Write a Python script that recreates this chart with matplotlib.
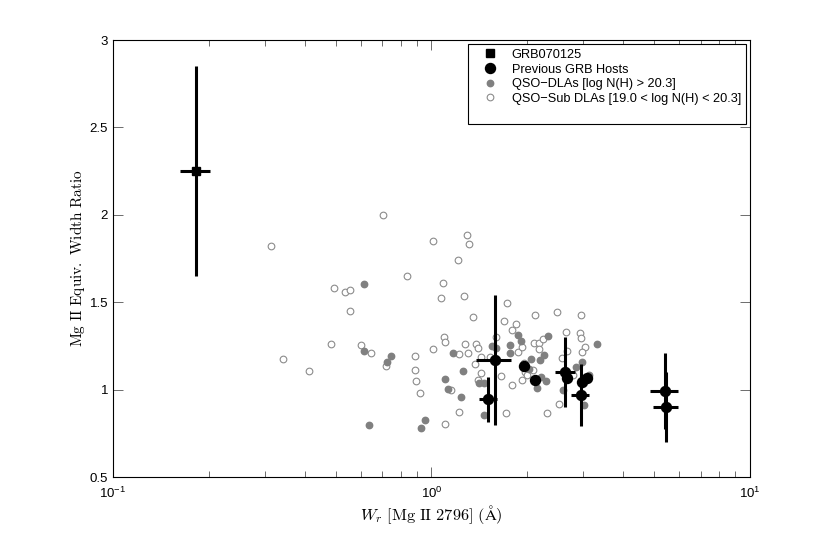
import numpy as np
import matplotlib
matplotlib.use('Agg')
import matplotlib.pyplot as plt
from matplotlib.ticker import FixedLocator, FormatStrFormatter, LogLocator

plt.rcParams['font.family'] = ['Liberation Sans', 'DejaVu Sans']
plt.rcParams['mathtext.fontset'] = 'cm'

# GRB070125
grb_x = [0.182]
grb_y = [2.25]
grb_xerr = [0.02]
grb_yerr = [0.60]

# previous GRB hosts (with error bars)
host_x = [1.51, 1.58, 2.63, 2.94, 5.41, 5.45]
host_y = [0.944, 1.169, 1.102, 0.969, 0.992, 0.900]
host_xerr = [0.10, 0.20, 0.19, 0.19, 0.55, 0.50]
host_yerr = [0.13, 0.37, 0.20, 0.18, 0.22, 0.20]
# previous GRB hosts (no error bars drawn)
host2_x = [1.95, 2.11, 2.67, 2.96, 3.08]
host2_y = [1.135, 1.055, 1.065, 1.045, 1.065]

# QSO-DLAs
dla_x = [0.615, 0.615, 0.746, 0.725, 0.635, 0.958, 0.929, 1.171, 1.256, 1.10,
         1.13, 1.235, 1.406, 1.465, 1.465, 1.545, 1.60, 1.761, 1.761, 1.875,
         1.915, 2.06, 2.02, 2.33, 3.30, 2.26, 2.19, 2.21, 2.29, 2.14,
         2.84, 2.96, 3.13, 2.59, 3.01]
dla_y = [1.606, 1.219, 1.194, 1.160, 0.796, 0.826, 0.780, 1.208, 1.106, 1.062,
         1.003, 0.958, 1.036, 1.036, 0.855, 1.251, 1.236, 1.255, 1.208, 1.312,
         1.280, 1.173, 1.116, 1.307, 1.261, 1.198, 1.169, 1.074, 1.049, 1.007,
         1.128, 1.160, 1.083, 0.998, 0.910]

# QSO-Sub DLAs
sub_x = [0.313, 0.706, 1.008, 1.29, 1.31, 1.21, 0.84, 1.09, 1.07, 1.265,
         0.494, 0.536, 0.555, 0.555, 1.353, 0.484, 0.602, 0.646, 0.343, 0.413,
         0.718, 0.887, 0.887, 0.896, 0.918, 1.008, 1.097, 1.102, 1.22, 1.27,
         1.305, 1.377, 1.396, 1.43, 1.37, 1.43, 1.396, 1.217, 1.10, 1.154,
         1.59, 1.527, 1.73, 1.685, 1.84, 1.786, 1.865, 1.92, 1.95, 1.96,
         2.0, 1.93, 1.79, 1.65, 1.72, 2.11, 2.10, 2.48, 2.94, 2.64,
         2.93, 2.95, 3.03, 2.98, 2.18, 2.24, 2.18, 2.67, 2.57, 2.08,
         2.79, 2.52, 2.30]
sub_y = [1.823, 2.000, 1.852, 1.883, 1.833, 1.740, 1.648, 1.612, 1.526, 1.537,
         1.581, 1.558, 1.572, 1.448, 1.414, 1.263, 1.255, 1.208, 1.173, 1.108,
         1.135, 1.190, 1.114, 1.049, 0.979, 1.232, 1.299, 1.271, 1.202, 1.259,
         1.209, 1.259, 1.238, 1.188, 1.146, 1.093, 1.053, 0.874, 0.803, 0.996,
         1.301, 1.188, 1.495, 1.394, 1.374, 1.341, 1.217, 1.245, 1.154, 1.102,
         1.082, 1.055, 1.025, 1.079, 0.864, 1.427, 1.268, 1.446, 1.427, 1.328,
         1.322, 1.293, 1.245, 1.217, 1.265, 1.288, 1.230, 1.222, 1.179, 1.112,
         1.083, 0.918, 0.868]

fig = plt.figure(figsize=(8.3, 5.37), dpi=100)
ax = fig.add_axes([0.136, 0.1117, 0.7676, 0.8138])

grey = '#808080'
h_sub, = ax.plot(sub_x, sub_y, 'o', mfc='white', mec='#8c8c8c', mew=0.8, ms=4.8, ls='none')
h_dla, = ax.plot(dla_x, dla_y, 'o', mfc=grey, mec=grey, ms=4.6, ls='none')

ax.errorbar(host_x, host_y, xerr=host_xerr, yerr=host_yerr, fmt='none',
            ecolor='k', elinewidth=2.2, capsize=0)
h_host, = ax.plot(host_x + host2_x, host_y + host2_y, 'o', color='k', ms=7.2, ls='none')

ax.errorbar(grb_x, grb_y, xerr=grb_xerr, yerr=grb_yerr, fmt='none',
            ecolor='k', elinewidth=2.2, capsize=0)
h_grb, = ax.plot(grb_x, grb_y, 's', color='k', ms=6, ls='none')

# blank row so the legend box has the extra space at the bottom
h_blank, = ax.plot([], [], ls='none')

ax.set_xscale('log')
ax.set_xlim(0.1, 10)
ax.set_ylim(0.5, 3)
ax.yaxis.set_major_locator(FixedLocator([0.5, 1, 1.5, 2, 2.5, 3]))
ax.yaxis.set_major_formatter(FormatStrFormatter('%g'))
ax.xaxis.set_major_locator(LogLocator(base=10, numticks=5))
ax.xaxis.set_minor_locator(LogLocator(base=10, subs=np.arange(2, 10), numticks=20))

ax.tick_params(which='both', direction='in', top=True, right=True,
               labelsize=9.5, width=0.6, color='#555555')
ax.tick_params(which='major', length=7)
ax.tick_params(which='minor', length=4)
ax.tick_params(axis='x', which='major', pad=6)
for s in ax.spines.values():
    s.set_linewidth(0.8)

ax.set_xlabel(r'$W_r\ \mathrm{[Mg\ II\ 2796]\ (\AA)}$', fontsize=11.8, labelpad=2)
ax.set_ylabel(r'$\mathrm{Mg\ II\ Equiv.\ Width\ Ratio}$', fontsize=11.0, labelpad=1.5)

leg = ax.legend([h_grb, h_host, h_dla, h_sub, h_blank],
                ['GRB070125', 'Previous GRB Hosts', 'QSO\u2212DLAs [log N(H) > 20.3]',
                 'QSO\u2212Sub DLAs [19.0 < log N(H) < 20.3]', ' '],
                loc='upper right', fontsize=9.2, fancybox=False, framealpha=1,
                edgecolor='k', borderaxespad=0.3, handletextpad=0.39,
                labelspacing=0.2, borderpad=0.4, handlelength=2.6)
leg.get_frame().set_linewidth(0.8)

plt.savefig('out.png', dpi=100)
